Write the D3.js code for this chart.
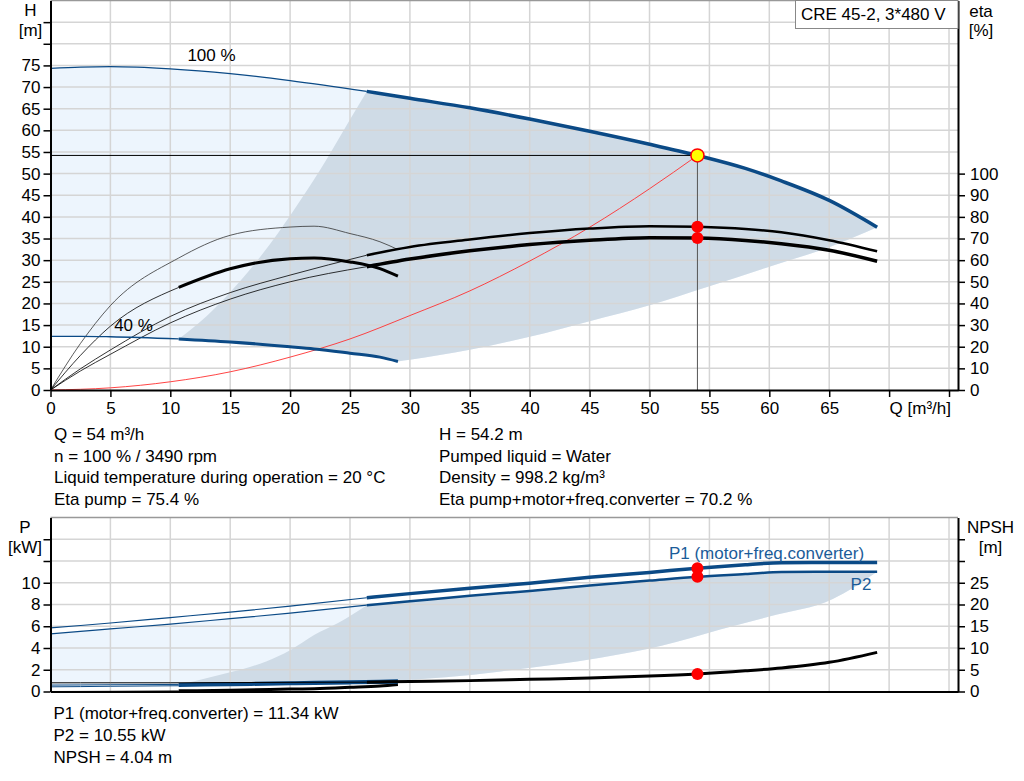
<!DOCTYPE html>
<html>
<head>
<meta charset="utf-8">
<title>CRE 45-2 pump curves</title>
<style>
    body { margin: 0; background: white; }
    svg { display: block; font-family: "Liberation Sans", Arial, sans-serif; font-size: 17px; }
    .grid line { stroke: #d5d5d5; stroke-width: 1.5; }
    .axis path, .axis line { stroke: black; }
    .axis path { stroke-width: 2; }
    .axis line { stroke-width: 1.5; }
    .axis text { font-family: "Liberation Sans", Arial, sans-serif; font-size: 17px; fill: black; }
</style>
<script src="https://cdn.jsdelivr.net/npm/d3@7"></script>
</head>
<body>
<div id="chart"></div>
<script>
    // ---- curves at 100 % speed ----
    var flow100     = [0, 2.5, 5, 10, 15, 20, 26.4, 30, 35, 40, 45, 50, 54, 58, 61, 65, 69];
    var head100     = [74.3, 74.6, 74.7, 74.2, 73.1, 71.5, 69.0, 67.4, 65.2, 62.6, 59.8, 56.8, 54.2, 51.2, 48.3, 43.8, 37.6];
    var etaPump100  = [0, 9.8, 18.5, 34.0, 45.0, 53.1, 62.3, 66.1, 69.6, 72.5, 74.6, 75.7, 75.4, 74.4, 72.9, 69.2, 64.1];
    var etaTotal100 = [0, 8.8, 16.5, 31.0, 42.0, 50.0, 57.0, 60.5, 64.3, 67.2, 69.2, 70.4, 70.2, 69.1, 67.6, 64.6, 59.5];
    var p1_100      = [5.85, 6.07, 6.3, 6.8, 7.3, 7.85, 8.62, 9.0, 9.5, 9.95, 10.5, 10.95, 11.34, 11.65, 11.85, 11.87, 11.87];
    var p2_100      = [5.3, 5.52, 5.75, 6.2, 6.7, 7.2, 7.94, 8.3, 8.8, 9.25, 9.75, 10.2, 10.55, 10.8, 10.99, 11.02, 11.02];
    var npsh100     = [2.0, 2.0, 2.0, 2.0, 2.05, 2.1, 2.15, 2.3, 2.5, 2.8, 3.1, 3.55, 4.04, 4.75, 5.4, 6.7, 9.0];

    // ---- curves at 40 % speed ----
    var flow40     = [0, 2.5, 5, 10.7, 15, 20, 22, 25, 27.5, 29];
    var head40     = [12.4, 12.4, 12.3, 11.8, 11.1, 10.0, 9.5, 8.5, 7.6, 6.6];
    var etaPump40  = [0, 21.5, 39, 61, 71.5, 75.3, 75.7, 72.3, 68.5, 64.9];
    var etaTotal40 = [0, 16, 29.5, 47.4, 56, 60.7, 61, 59.2, 56.1, 52.6];
    var p1_40      = [0.59, 0.6, 0.62, 0.65, 0.72, 0.8, 0.84, 0.9, 0.95, 0.99];
    var p2_40      = [0.43, 0.45, 0.48, 0.53, 0.6, 0.68, 0.72, 0.77, 0.8, 0.83];
    var npsh40     = [0, 0.02, 0.05, 0.15, 0.3, 0.55, 0.65, 0.95, 1.25, 1.6];

    // start of the thick (allowed) part of each speed curve
    var thickFrom100 = 26.4;
    var thickFrom40 = 10.7;

    // system curve through the duty point
    var flowSys = [0, 5, 10, 15, 20, 25, 30, 35, 40, 45, 50, 54];
    var headSys = [0, 0.5, 1.9, 4.2, 7.6, 11.8, 17.2, 22.9, 29.8, 37.6, 46.5, 54.2];

    // operating range boundaries
    var flowMinH = [10.7, 13, 15, 17, 19, 21, 23, 25, 26.4];
    var headMin  = [11.8, 17.0, 22.6, 29.0, 36.3, 44.4, 53.1, 62.5, 69.0];
    var flowMaxH = [29, 30, 35, 40, 45, 50, 55, 60, 65, 69];
    var headMax  = [6.6, 7.0, 9.3, 12.3, 15.9, 19.6, 24.0, 28.5, 33.0, 37.6];
    var flowMinP = [10.7, 12, 14, 16, 18, 20, 22, 24, 26.4];
    var powerMin = [0.65, 0.95, 1.5, 2.05, 2.77, 3.8, 5.2, 6.3, 7.94];
    var flowMaxP = [29, 33, 37.6, 42, 45.9, 51, 55.9, 60, 65.3, 69];
    var powerMax = [0.99, 1.3, 1.85, 2.45, 3.1, 4.2, 5.7, 6.9, 8.5, 11.02];

    // duty point
    var dutyQ = 54, dutyH = 54.2, dutyEtaPump = 75.4, dutyEtaTotal = 70.2;
    var dutyP1 = 11.34, dutyP2 = 10.55, dutyNpsh = 4.04;

    // ticks and texts
    var flowTicks = d3.range(0, 80, 5);
    var headTicks = d3.range(0, 90, 5);
    var etaTicks = d3.range(0, 110, 10);
    var powerTicks = d3.range(0, 16, 2);
    var npshTicks = d3.range(0, 40, 5);
    var infoLeft = ['Q = 54 m³/h', 'n = 100 % / 3490 rpm', 'Liquid temperature during operation = 20 °C', 'Eta pump = 75.4 %'];
    var infoRight = ['H = 54.2 m', 'Pumped liquid = Water', 'Density = 998.2 kg/m³', 'Eta pump+motor+freq.converter = 70.2 %'];
    var infoPower = ['P1 (motor+freq.converter) = 11.34 kW', 'P2 = 10.55 kW', 'NPSH = 4.04 m'];

    var blue = '#0b4a86', lightFill = '#edf5fd', darkFill = '#cfdbe6';

    var svg = d3.select('#chart').append('svg')
            .attr('width', 1024)
            .attr('height', 781);

    var x = d3.scaleLinear().domain([0, 75.75]).range([50.5, 958]);
    var yH = d3.scaleLinear().domain([0, 90]).range([390, 0.5]);
    var yEta = d3.scaleLinear().domain([0, 180]).range([390, 0.5]);
    var yP = d3.scaleLinear().domain([0, 16]).range([691.5, 517.5]);
    var yN = d3.scaleLinear().domain([0, 40]).range([691.5, 517.5]);

    function pts(qs, vs) { return qs.map(function(q, i) { return [q, vs[i]] }); }
    function part(p, a, b) { return p.filter(function(d) { return d[0] >= a && d[0] <= b }); }
    function lineFor(y) {
        return d3.line().x(function(d) { return x(d[0]) }).y(function(d) { return y(d[1]) })
                .curve(d3.curveMonotoneX);
    }
    function areaPath(pieces, y) {
        var gen = lineFor(y);
        return pieces.map(function(p, i) {
            var s = gen(p);
            return i ? s.replace(/^M/, 'L') : s;
        }).join('') + 'Z';
    }
    function curve(y, data, color, width) {
        svg.append('path')
                .attr('d', lineFor(y)(data))
                .attr('fill', 'none')
                .attr('stroke', color)
                .attr('stroke-width', width)
                .attr('stroke-linejoin', 'round');
    }
    function splitCurve(y, data, from, color, thin, thick) {
        curve(y, part(data, -1, from), color, thin);
        curve(y, part(data, from, 100), color, thick);
    }

    var H100 = pts(flow100, head100), H40 = pts(flow40, head40);
    var P2_100 = pts(flow100, p2_100), P1_40 = pts(flow40, p1_40);

    // ---- shaded ranges, top chart ----
    svg.append('path')
            .attr('d', areaPath([H100, pts(flowMaxH, headMax).reverse(), H40.slice().reverse()], yH))
            .attr('fill', lightFill);
    svg.append('path')
            .attr('d', areaPath([part(H100, thickFrom100, 100), pts(flowMaxH, headMax).reverse(),
                part(H40, thickFrom40, 100).reverse(), pts(flowMinH, headMin)], yH))
            .attr('fill', darkFill);

    // ---- shaded ranges, bottom chart ----
    svg.append('path')
            .attr('d', areaPath([P2_100, pts(flowMaxP, powerMax).reverse(), P1_40.slice().reverse()], yP))
            .attr('fill', lightFill);
    svg.append('path')
            .attr('d', areaPath([part(P2_100, thickFrom100, 100), pts(flowMaxP, powerMax).reverse(),
                part(P1_40, thickFrom40, 100).reverse(), pts(flowMinP, powerMin)], yP))
            .attr('fill', darkFill);

    // ---- grids ----
    var grid = svg.append('g').attr('class', 'grid');
    grid.selectAll('.vt').data(flowTicks.slice(1)).enter().append('line')
            .attr('x1', function(d) { return x(d) }).attr('x2', function(d) { return x(d) })
            .attr('y1', yH(90)).attr('y2', yH(0));
    grid.selectAll('.ht').data(d3.range(5, 90, 5)).enter().append('line')
            .attr('x1', x(0)).attr('x2', x(75.75))
            .attr('y1', function(d) { return yH(d) }).attr('y2', function(d) { return yH(d) });
    grid.selectAll('.vb').data(flowTicks.slice(1)).enter().append('line')
            .attr('x1', function(d) { return x(d) }).attr('x2', function(d) { return x(d) })
            .attr('y1', yP(16)).attr('y2', yP(0));
    grid.selectAll('.hb').data(d3.range(2, 16, 2)).enter().append('line')
            .attr('x1', x(0)).attr('x2', x(75.75))
            .attr('y1', function(d) { return yP(d) }).attr('y2', function(d) { return yP(d) });

    // top frames
    svg.append('line').attr('x1', x(0)).attr('x2', x(75.75)).attr('y1', yH(90)).attr('y2', yH(90))
            .attr('stroke', '#999').attr('stroke-width', 1.5);
    svg.append('line').attr('x1', x(0)).attr('x2', x(75.75)).attr('y1', yP(16)).attr('y2', yP(16))
            .attr('stroke', '#999').attr('stroke-width', 1.5);

    // ---- top chart curves ----
    curve(yH, pts(flowSys, headSys), '#ff3030', 0.9);
    curve(yEta, pts(flow40, etaPump40), '#333', 0.8);
    splitCurve(yEta, pts(flow40, etaTotal40), thickFrom40, '#000', 0.8, 3);
    splitCurve(yEta, pts(flow100, etaPump100), thickFrom100, '#000', 0.8, 2.5);
    splitCurve(yEta, pts(flow100, etaTotal100), thickFrom100, '#000', 0.8, 3.5);
    splitCurve(yH, H40, thickFrom40, blue, 1.3, 3);
    splitCurve(yH, H100, thickFrom100, blue, 1.3, 3.5);

    // duty point lines
    svg.append('line').attr('x1', x(0)).attr('x2', x(dutyQ)).attr('y1', yH(dutyH)).attr('y2', yH(dutyH))
            .attr('stroke', '#000').attr('stroke-width', 1);
    svg.append('line').attr('x1', x(dutyQ)).attr('x2', x(dutyQ)).attr('y1', yH(dutyH)).attr('y2', yH(0))
            .attr('stroke', '#555').attr('stroke-width', 1);

    // ---- bottom chart curves ----
    splitCurve(yN, pts(flow40, npsh40), thickFrom40, '#000', 0.8, 3);
    splitCurve(yP, pts(flow40, p2_40), thickFrom40, blue, 1, 2.5);
    splitCurve(yP, P1_40, thickFrom40, blue, 1, 3);
    splitCurve(yN, pts(flow100, npsh100), thickFrom100, '#000', 1, 3);
    splitCurve(yP, P2_100, thickFrom100, blue, 1.2, 2.5);
    splitCurve(yP, pts(flow100, p1_100), thickFrom100, blue, 1.2, 3.5);

    // ---- duty point markers ----
    [[yEta, dutyEtaPump], [yEta, dutyEtaTotal], [yP, dutyP1], [yP, dutyP2], [yN, dutyNpsh]].forEach(function(m) {
        svg.append('circle').attr('cx', x(dutyQ)).attr('cy', m[0](m[1])).attr('r', 6).attr('fill', '#ff0000');
    });
    svg.append('circle').attr('cx', x(dutyQ)).attr('cy', yH(dutyH)).attr('r', 6.5)
            .attr('fill', '#ffff00').attr('stroke', '#ff0000').attr('stroke-width', 1.5);

    // ---- axes ----
    svg.append('g').attr('class', 'axis')
            .attr('transform', 'translate(' + x(0) + ',0)')
            .call(d3.axisLeft(yH).tickValues(headTicks).tickSize(7).tickSizeOuter(0).tickPadding(3)
                .tickFormat(function(d) { return d <= 75 ? d : '' }));
    svg.append('g').attr('class', 'axis')
            .attr('transform', 'translate(' + x(75.75) + ',0)')
            .call(d3.axisRight(yEta).tickValues(etaTicks).tickSize(7).tickSizeOuter(0).tickPadding(5));
    var qAxis = svg.append('g').attr('class', 'axis')
            .attr('transform', 'translate(0,' + yH(0) + ')')
            .call(d3.axisBottom(x).tickValues(flowTicks).tickSize(7).tickSizeOuter(0).tickPadding(5)
                .tickFormat(function(d) { return d === 70 ? 'Q [m³/h]' : d === 75 ? '' : d }));
    // the unit label starts at the 70 tick
    qAxis.selectAll('.tick text').filter(function(d) { return d === 70 }).attr('text-anchor', 'start');

    svg.append('g').attr('class', 'axis')
            .attr('transform', 'translate(' + x(0) + ',0)')
            .call(d3.axisLeft(yP).tickValues(powerTicks).tickSize(7).tickSizeOuter(0).tickPadding(3)
                .tickFormat(function(d) { return d <= 10 ? d : '' }));
    svg.append('g').attr('class', 'axis')
            .attr('transform', 'translate(' + x(75.75) + ',0)')
            .call(d3.axisRight(yN).tickValues(npshTicks).tickSize(7).tickSizeOuter(0).tickPadding(5)
                .tickFormat(function(d) { return d <= 25 ? d : '' }));
    svg.append('g').attr('class', 'axis')
            .attr('transform', 'translate(0,' + yP(0) + ')')
            .call(d3.axisBottom(x).tickValues([]).tickSize(0).tickSizeOuter(0));

    // ---- legend box ----
    svg.append('rect').attr('x', 795.5).attr('y', 0.5).attr('width', 162.5).attr('height', 28)
            .attr('fill', 'white').attr('stroke', '#888');
    svg.append('text').attr('x', 801).attr('y', 20).text('CRE 45-2, 3*480 V');

    // ---- axis titles and curve labels ----
    function label(t, lx, ly, anchor, color) {
        svg.append('text').attr('x', lx).attr('y', ly)
                .attr('text-anchor', anchor || 'start')
                .attr('fill', color || '#000')
                .text(t);
    }
    label('H', 30.5, 16, 'middle');
    label('[m]', 30.5, 36, 'middle');
    label('eta', 981, 17, 'middle');
    label('[%]', 981, 36, 'middle');
    label('P', 25, 533, 'middle');
    label('[kW]', 25, 553, 'middle');
    label('NPSH', 990.5, 533, 'middle');
    label('[m]', 990.5, 553, 'middle');
    label('100 %', 211.5, 61, 'middle');
    label('40 %', 133.5, 331, 'middle');
    label('P1 (motor+freq.converter)', 766.5, 558.5, 'middle', '#1b5c99');
    label('P2', 861, 589.5, 'middle', '#1b5c99');

    infoLeft.forEach(function(t, i) { label(t, 54, 440 + i * 21.7) });
    infoRight.forEach(function(t, i) { label(t, 439, 440 + i * 21.7) });
    infoPower.forEach(function(t, i) { label(t, 53.5, 719 + i * 22) });
</script>
</body>
</html>
